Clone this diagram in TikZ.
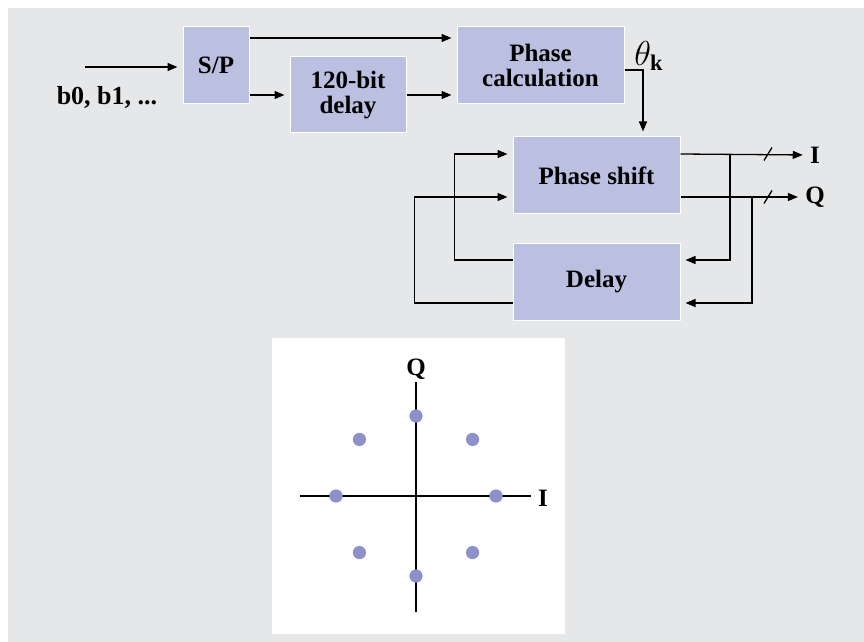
\documentclass[tikz,border=0pt]{standalone}
\usepackage{fontspec}
\setmainfont{Liberation Serif}
\usepackage{xcolor}
\usetikzlibrary{arrows.meta,positioning,calc}
\definecolor{panelgray}{RGB}{230,231,233}
\definecolor{boxblue}{RGB}{187,191,224}
\definecolor{dotblue}{RGB}{140,145,199}

\begin{document}
\begin{tikzpicture}[
    x=0.5pt,
    y=-0.5pt,
    >={Triangle[length=5pt,width=4pt]},
    font=\fontsize{12.5}{12.5}\selectfont\bfseries,
    box/.style={
        draw=white,
        line width=0.5pt,
        fill=boxblue,
        minimum width=83.5pt,
        minimum height=38.5pt,
        inner sep=0pt,
        align=center
    },
    lbl/.style={
        inner sep=1pt
    },
    arr/.style={->, line width=0.65pt, shorten >=2.5pt},
    wire/.style={line width=0.65pt},
    dot/.style={fill=dotblue, draw=none}
]

\useasboundingbox (0,0) rectangle (864,642);
\fill[panelgray] (8,8) rectangle (864,642);

% first row
\node[box, minimum width=33pt] (sp) at (216,65.5) {S/P};
\node[box, minimum width=58pt, minimum height=38pt] (dly120) at (348,95) {120-bit\\delay};
\node[box] (pcalc) at (540.5,65.5) {Phase\\calculation};
\node[lbl, font=\fontsize{16}{16}\selectfont] (theta) at (649,56) {$\theta_{\mathbf{k}}$};

% input
\coordinate (bin) at (85,67);
\node[lbl, font=\fontsize{13}{13}\selectfont\bfseries] (bits) at (107,97) {b0, b1, ...};

% second block
\node[box] (pshift) at (596.5,175.5) {Phase shift};
\node[box] (delay) at (596.5,282) {Delay};
\node[lbl] (iout) at (815,155) {I};
\node[lbl] (qout) at (815,197) {Q};

\draw[arr] (bin) -- (sp.west |- bin);
\draw[arr] ([yshift=13.75pt]sp.east) -- ([yshift=13.75pt]pcalc.west);
\draw[arr] (sp.east |- dly120.west) -- (dly120.west);
\draw[arr] (dly120.east) -- (pcalc.west |- dly120.east);
\draw[arr] ([yshift=-2.25pt]pcalc.east) -| ([xshift=23.25pt]pshift.north);

% outputs I and Q
\draw[arr] ([yshift=10.75pt]pshift.east) -- (iout.west);
\draw[arr] ([yshift=-10.75pt]pshift.east) -- (qout.west);
\draw[wire] (768,154) ++(-4,6.5) -- ++(8,-13);
\draw[wire] (768,197) ++(-4,6.5) -- ++(8,-13);

% feedback through delay
\draw[arr] (730,154) |- ([yshift=11pt]delay.east);
\draw[arr] (752,197) |- ([yshift=-10.5pt]delay.east);
\draw[arr] ([yshift=11pt]delay.west) -- ++(-58,0) |- ([yshift=10.75pt]pshift.west);
\draw[arr] ([yshift=-10.5pt]delay.west) -- ++(-98,0) |- ([yshift=-10.75pt]pshift.west);

% constellation
\fill[white] (272,338) rectangle (565,634);
\coordinate (org) at (416,496);
\draw[wire] (300,496) -- (531,496);
\draw[wire] (416,382) -- (416,612);
\node[lbl] (qaxis) at (416,369) {Q};
\node[lbl] (iaxis) at (543,498) {I};
\foreach \a in {0,45,...,315}
    \fill[dot] (org) ++(\a:80) circle (3.3pt);

\end{tikzpicture}
\end{document}
